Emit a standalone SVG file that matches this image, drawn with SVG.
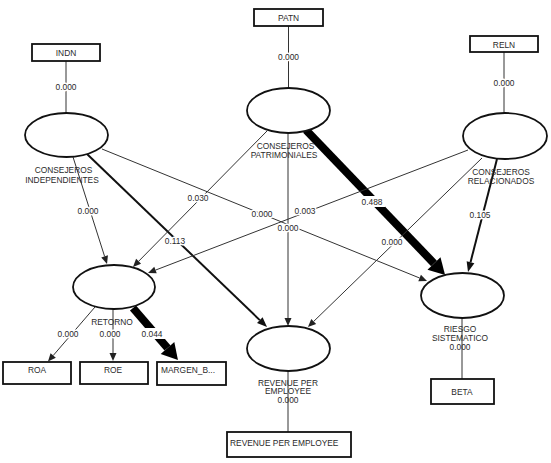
<svg xmlns="http://www.w3.org/2000/svg" width="551" height="463" viewBox="0 0 551 463">
<defs>
<style>
text{font-family:"Liberation Sans",Arial,sans-serif;font-size:8.4px;fill:#2a2a2a}
.c{text-anchor:middle}
.lbl{text-anchor:middle;stroke:#fff;stroke-width:3px;paint-order:stroke;stroke-linejoin:round}
.gap{fill:#fff}
.box{fill:#fff;stroke:#111;stroke-width:1.8}
.lv{fill:#fff;stroke:#111;stroke-width:1.8}
.thin{fill:none;stroke:#333;stroke-width:1}
.med{fill:none;stroke:#111;stroke-width:2}
.thick{fill:none;stroke:#000;stroke-width:8}
</style>
<marker id="aThin" markerUnits="userSpaceOnUse" markerWidth="10" markerHeight="10" refX="0" refY="3.5" orient="auto" overflow="visible"><path d="M0,0 L8,3.5 L0,7 Z" fill="#222"/></marker>
<marker id="aMed" markerUnits="userSpaceOnUse" markerWidth="12" markerHeight="12" refX="0" refY="4" orient="auto" overflow="visible"><path d="M0,0 L10,4 L0,8 Z" fill="#111"/></marker>
<marker id="aThick" markerUnits="userSpaceOnUse" markerWidth="20" markerHeight="20" refX="0" refY="9" orient="auto" overflow="visible"><path d="M0,0 L16,9 L0,18 Z" fill="#000"/></marker>
</defs>
<rect width="551" height="463" fill="#fff"/>
<g id="connectors">
<path class="thin" d="M66,61 L66,113"/>
<path class="thin" d="M288.5,26 L288.5,88"/>
<path class="thin" d="M504,52 L504,113"/>
<path class="thin" d="M288,371 L288,432"/>
<path class="thin" d="M462,318 L462,379"/>
<path class="thin" d="M73,157 L104.6,256.4" marker-end="url(#aThin)"/>
<path class="med" d="M87,154 L259.8,320.1" marker-end="url(#aMed)"/>
<path class="thin" d="M102,149 L419.6,278" marker-end="url(#aThin)"/>
<path class="thin" d="M267,131 L138.6,261.3" marker-end="url(#aThin)"/>
<path class="thin" d="M288,133 L288,318" marker-end="url(#aThin)"/>
<path class="thick" d="M306,130 L434,263.4" marker-end="url(#aThick)"/>
<path class="thin" d="M468,150 L155.5,270.1" marker-end="url(#aThin)"/>
<path class="thin" d="M482,158 L313.7,321.4" marker-end="url(#aThin)"/>
<path class="med" d="M497,159 L470.5,262.3" marker-end="url(#aMed)"/>
<path class="thin" d="M95,307 L53.2,355.5" marker-end="url(#aThin)"/>
<path class="thin" d="M113,309 L113,353" marker-end="url(#aThin)"/>
<path class="thick" d="M133,308 L167.5,348" marker-end="url(#aThick)"/>
<rect class="gap" x="359" y="196" width="26" height="11"/>
<rect class="gap" x="139" y="328" width="26" height="11"/>
<text class="lbl" x="66" y="90">0.000</text>
<text class="lbl" x="288.5" y="60">0.000</text>
<text class="lbl" x="504" y="86">0.000</text>
<text class="lbl" x="88" y="214">0.000</text>
<text class="lbl" x="175" y="244">0.113</text>
<text class="lbl" x="262" y="217">0.000</text>
<text class="lbl" x="198" y="201">0.030</text>
<text class="lbl" x="288" y="231">0.000</text>
<text class="lbl" x="372" y="205">0.488</text>
<text class="lbl" x="305" y="214">0.003</text>
<text class="lbl" x="392" y="245">0.000</text>
<text class="lbl" x="480" y="218">0.105</text>
<text class="lbl" x="68" y="337">0.000</text>
<text class="lbl" x="110" y="337">0.000</text>
<text class="lbl" x="152" y="337">0.044</text>
</g>
<g id="INDN"><rect class="box" x="32" y="44" width="68" height="17"/><text class="c" x="66" y="56">INDN</text></g>
<g id="PATN"><rect class="box" x="254" y="9" width="69" height="17"/><text class="c" x="288.5" y="20.5">PATN</text></g>
<g id="RELN"><rect class="box" x="470" y="36" width="68" height="16"/><text class="c" x="504" y="47.5">RELN</text></g>
<g id="consejeros-independientes"><ellipse class="lv" cx="66.5" cy="135" rx="41.5" ry="22"/><text class="c" x="63.5" y="173">CONSEJEROS</text><text class="c" x="62" y="183">INDEPENDIENTES</text></g>
<g id="consejeros-patrimoniales"><ellipse class="lv" cx="288.5" cy="110.5" rx="41.5" ry="22.5"/><text class="c" x="285.5" y="149">CONSEJEROS</text><text class="c" x="284" y="158">PATRIMONIALES</text></g>
<g id="consejeros-relacionados"><ellipse class="lv" cx="505" cy="136" rx="42" ry="23"/><text class="c" x="501" y="175">CONSEJEROS</text><text class="c" x="501" y="184">RELACIONADOS</text></g>
<g id="retorno"><ellipse class="lv" cx="114" cy="287" rx="41" ry="22"/><text class="c" x="112" y="325">RETORNO</text></g>
<g id="revenue"><ellipse class="lv" cx="288.5" cy="348.5" rx="41.5" ry="22.5"/><text class="c" x="288" y="385.5">REVENUE PER</text><text class="c" x="288" y="394.3">EMPLOYEE</text><text class="c" x="288" y="403.1">0.000</text></g>
<g id="riesgo"><ellipse class="lv" cx="462.5" cy="295.5" rx="41.5" ry="22.5"/><text class="c" x="460" y="332">RIESGO</text><text class="c" x="460" y="340.8">SISTEMATICO</text><text class="c" x="460" y="349.6">0.000</text></g>
<g id="ROA"><rect class="box" x="3" y="362" width="68" height="22"/><text class="c" x="37" y="373">ROA</text></g>
<g id="ROE"><rect class="box" x="80" y="362" width="68" height="22"/><text class="c" x="113" y="373">ROE</text></g>
<g id="MARGEN"><rect class="box" x="157" y="362" width="69" height="23"/><text x="161" y="373">MARGEN_B...</text></g>
<g id="BETA"><rect class="box" x="431" y="379" width="63" height="25"/><text class="c" x="462" y="395">BETA</text></g>
<g id="REVENUE-PER-EMPLOYEE"><rect class="box" x="227" y="432" width="124" height="25"/><text x="230" y="446">REVENUE PER EMPLOYEE</text></g>
</svg>
